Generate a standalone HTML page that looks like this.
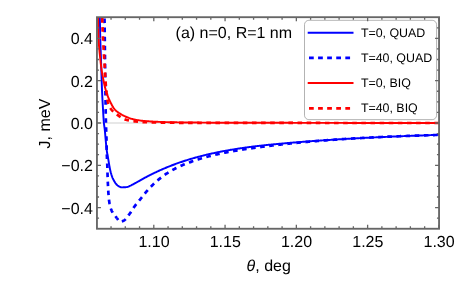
<!DOCTYPE html>
<html><head><meta charset="utf-8"><title>plot</title>
<style>html,body{margin:0;padding:0;background:#fff;overflow:hidden;}svg{display:block;will-change:transform;}text{font-family:"Liberation Sans",sans-serif;fill:#000;text-rendering:geometricPrecision;}</style></head><body>
<svg width="456" height="298" viewBox="0 0 456 298">
<rect width="456" height="298" fill="#fff"/>
<defs><clipPath id="c"><rect x="96.95" y="17.2" width="342.1" height="211.55"/></clipPath></defs>
<path d="M96.95,122.98 H439.05" stroke="#cfcfcf" stroke-width="1.1" fill="none"/>
<g clip-path="url(#c)" fill="none" stroke-linejoin="round">
<path d="M99.30,0.00 L99.32,0.75 L99.35,1.50 L99.37,2.25 L99.40,2.99 L99.42,3.74 L99.44,4.49 L99.47,5.24 L99.49,5.99 L99.51,6.74 L99.53,7.49 L99.56,8.23 L99.58,8.98 L99.60,9.73 L99.62,10.48 L99.64,11.23 L99.66,11.98 L99.69,12.73 L99.71,13.47 L99.73,14.22 L99.75,14.97 L99.77,15.72 L99.79,16.47 L99.81,17.22 L99.82,17.97 L99.84,18.72 L99.86,19.46 L99.88,20.21 L99.90,20.96 L99.91,21.71 L99.93,22.46 L99.95,23.21 L99.96,23.96 L99.98,24.70 L99.99,25.45 L100.01,26.20 L100.02,26.95 L100.04,27.70 L100.06,28.45 L100.07,29.20 L100.09,29.95 L100.10,30.70 L100.12,31.44 L100.14,32.19 L100.15,32.94 L100.17,33.69 L100.19,34.44 L100.20,35.19 L100.22,35.94 L100.24,36.68 L100.26,37.43 L100.28,38.18 L100.30,38.93 L100.32,39.68 L100.34,40.43 L100.36,41.18 L100.38,41.93 L100.41,42.67 L100.43,43.42 L100.45,44.17 L100.48,44.92 L100.50,45.67 L100.53,46.42 L100.55,47.16 L100.58,47.91 L100.61,48.66 L100.63,49.41 L100.66,50.16 L100.68,50.91 L100.71,51.66 L100.74,52.40 L100.76,53.15 L100.79,53.90 L100.82,54.65 L100.84,55.40 L100.87,56.15 L100.90,56.89 L100.92,57.64 L100.95,58.39 L100.97,59.14 L101.00,59.89 L101.02,60.64 L101.05,61.39 L101.07,62.13 L101.09,62.88 L101.12,63.63 L101.14,64.38 L101.17,65.13 L101.19,65.88 L101.21,66.63 L101.24,67.37 L101.26,68.12 L101.29,68.87 L101.31,69.62 L101.33,70.37 L101.36,71.12 L101.38,71.87 L101.41,72.61 L101.43,73.36 L101.46,74.11 L101.48,74.86 L101.50,75.61 L101.53,76.36 L101.55,77.10 L101.58,77.85 L101.60,78.60 L101.63,79.35 L101.65,80.10 L101.68,80.85 L101.70,81.60 L101.73,82.34 L101.75,83.09 L101.78,83.84 L101.80,84.59 L101.83,85.34 L101.85,86.09 L101.88,86.84 L101.91,87.58 L101.93,88.33 L101.96,89.08 L101.99,89.83 L102.02,90.58 L102.06,91.33 L102.09,92.07 L102.12,92.82 L102.16,93.57 L102.19,94.32 L102.23,95.07 L102.26,95.81 L102.30,96.56 L102.34,97.31 L102.38,98.06 L102.42,98.81 L102.46,99.55 L102.50,100.30 L102.54,101.05 L102.58,101.80 L102.62,102.54 L102.66,103.29 L102.70,104.04 L102.75,104.79 L102.79,105.54 L102.83,106.28 L102.88,107.03 L102.92,107.78 L102.96,108.53 L103.01,109.27 L103.05,110.02 L103.09,110.77 L103.14,111.52 L103.18,112.27 L103.22,113.01 L103.26,113.76 L103.31,114.51 L103.35,115.26 L103.39,116.01 L103.44,116.75 L103.49,117.50 L103.54,118.25 L103.59,119.00 L103.64,119.74 L103.69,120.49 L103.75,121.24 L103.81,121.98 L103.88,122.73 L103.95,123.47 L104.03,124.22 L104.12,124.96 L104.22,125.70 L104.33,126.44 L104.43,127.18 L104.54,127.93 L104.64,128.67 L104.73,129.41 L104.82,130.16 L104.89,130.90 L104.97,131.65 L105.04,132.39 L105.10,133.14 L105.17,133.88 L105.23,134.63 L105.30,135.38 L105.36,136.12 L105.42,136.87 L105.49,137.62 L105.55,138.36 L105.62,139.11 L105.69,139.85 L105.76,140.60 L105.83,141.35 L105.89,142.09 L105.96,142.84 L106.03,143.58 L106.10,144.33 L106.17,145.08 L106.24,145.82 L106.31,146.57 L106.39,147.31 L106.47,148.06 L106.56,148.80 L106.64,149.54 L106.74,150.29 L106.84,151.03 L106.95,151.77 L107.06,152.51 L107.18,153.24 L107.31,153.98 L107.44,154.72 L107.57,155.46 L107.71,156.20 L107.84,156.93 L107.98,157.67 L108.11,158.41 L108.25,159.14 L108.38,159.88 L108.51,160.62 L108.63,161.36 L108.76,162.10 L108.88,162.84 L109.00,163.58 L109.12,164.32 L109.25,165.06 L109.38,165.80 L109.51,166.53 L109.64,167.27 L109.78,168.01 L109.93,168.74 L110.08,169.47 L110.24,170.20 L110.41,170.93 L110.59,171.66 L110.77,172.39 L110.97,173.12 L111.17,173.84 L111.38,174.56 L111.61,175.27 L111.85,175.98 L112.09,176.68 L112.36,177.38 L112.65,178.07 L112.97,178.75 L113.30,179.43 L113.65,180.10 L114.02,180.75 L114.40,181.39 L114.79,182.04 L115.20,182.70 L115.63,183.35 L116.09,183.97 L116.57,184.53 L117.09,185.03 L117.64,185.45 L118.25,185.88 L118.92,186.30 L119.61,186.68 L120.33,187.00 L121.06,187.23 L121.79,187.34 L122.51,187.35 L123.25,187.33 L124.01,187.30 L124.77,187.26 L125.53,187.21 L126.28,187.14 L127.00,187.07 L127.72,186.89 L128.42,186.61 L129.11,186.28 L129.80,185.95 L130.48,185.65 L131.16,185.33 L131.83,184.99 L132.49,184.65 L133.15,184.30 L133.81,183.94 L134.47,183.58 L135.13,183.21 L135.79,182.86 L136.44,182.50 L137.10,182.14 L137.75,181.77 L138.41,181.40 L139.06,181.03 L139.71,180.66 L140.36,180.29 L141.01,179.92 L141.66,179.55 L142.31,179.18 L142.96,178.81 L143.62,178.45 L144.27,178.09 L144.93,177.73 L145.59,177.38 L146.25,177.02 L146.91,176.67 L147.58,176.32 L148.24,175.98 L148.91,175.63 L149.57,175.29 L150.24,174.96 L150.91,174.62 L151.58,174.29 L152.26,173.96 L152.93,173.63 L153.60,173.30 L154.28,172.98 L154.95,172.65 L155.63,172.33 L156.31,172.01 L156.99,171.69 L157.66,171.37 L158.34,171.06 L159.03,170.75 L159.71,170.44 L160.39,170.13 L161.07,169.83 L161.76,169.52 L162.45,169.23 L163.13,168.93 L163.82,168.63 L164.51,168.34 L165.20,168.05 L165.89,167.76 L166.58,167.48 L167.28,167.19 L167.97,166.91 L168.67,166.63 L169.36,166.35 L170.06,166.07 L170.76,165.80 L171.45,165.53 L172.15,165.26 L172.85,164.99 L173.55,164.73 L174.25,164.47 L174.96,164.21 L175.66,163.95 L176.36,163.69 L177.07,163.44 L177.77,163.19 L178.48,162.94 L179.19,162.69 L179.89,162.44 L180.60,162.20 L181.31,161.96 L182.02,161.72 L182.73,161.48 L183.44,161.25 L184.16,161.01 L184.87,160.78 L185.58,160.55 L186.29,160.33 L187.01,160.10 L187.72,159.88 L188.44,159.66 L189.15,159.44 L189.87,159.22 L190.59,159.01 L191.31,158.79 L192.03,158.58 L192.74,158.37 L193.46,158.17 L194.18,157.96 L194.91,157.76 L195.63,157.55 L196.35,157.35 L197.07,157.16 L197.79,156.96 L198.52,156.77 L199.24,156.57 L199.97,156.38 L200.69,156.20 L201.42,156.01 L202.14,155.82 L202.87,155.64 L203.59,155.46 L204.32,155.28 L205.05,155.10 L205.78,154.92 L206.50,154.75 L207.23,154.57 L207.96,154.40 L208.69,154.23 L209.42,154.06 L210.15,153.90 L210.88,153.73 L211.61,153.57 L212.34,153.41 L213.08,153.25 L213.81,153.09 L214.54,152.93 L215.27,152.78 L216.01,152.62 L216.74,152.47 L217.47,152.32 L218.21,152.17 L218.94,152.02 L219.67,151.87 L220.41,151.72 L221.14,151.58 L221.88,151.44 L222.62,151.30 L223.35,151.16 L224.09,151.02 L224.82,150.88 L225.56,150.75 L226.30,150.61 L227.03,150.48 L227.77,150.35 L228.51,150.22 L229.25,150.09 L229.98,149.96 L230.72,149.83 L231.46,149.71 L232.20,149.59 L232.94,149.46 L233.68,149.34 L234.42,149.22 L235.16,149.10 L235.90,148.98 L236.64,148.87 L237.38,148.75 L238.12,148.64 L238.86,148.53 L239.60,148.42 L240.34,148.30 L241.08,148.20 L241.82,148.09 L242.56,147.98 L243.30,147.87 L244.04,147.77 L244.79,147.66 L245.53,147.56 L246.27,147.46 L247.01,147.36 L247.75,147.26 L248.50,147.16 L249.24,147.06 L249.98,146.97 L250.72,146.87 L251.47,146.78 L252.21,146.68 L252.95,146.59 L253.70,146.50 L254.44,146.41 L255.18,146.31 L255.93,146.23 L256.67,146.14 L257.41,146.05 L258.16,145.96 L258.90,145.88 L259.65,145.79 L260.39,145.71 L261.13,145.62 L261.88,145.54 L262.62,145.46 L263.37,145.38 L264.11,145.30 L264.86,145.22 L265.60,145.14 L266.35,145.06 L267.09,144.98 L267.84,144.90 L268.58,144.83 L269.33,144.75 L270.07,144.68 L270.82,144.60 L271.56,144.53 L272.31,144.46 L273.05,144.38 L273.80,144.31 L274.54,144.24 L275.29,144.17 L276.03,144.10 L276.78,144.03 L277.53,143.96 L278.27,143.89 L279.02,143.82 L279.76,143.75 L280.51,143.68 L281.26,143.62 L282.00,143.55 L282.75,143.48 L283.49,143.42 L284.24,143.35 L284.99,143.29 L285.73,143.22 L286.48,143.16 L287.22,143.09 L287.97,143.03 L288.72,142.97 L289.46,142.90 L290.21,142.84 L290.95,142.78 L291.70,142.71 L292.45,142.65 L293.19,142.59 L293.94,142.53 L294.69,142.47 L295.43,142.41 L296.18,142.35 L296.93,142.29 L297.67,142.23 L298.42,142.17 L299.17,142.11 L299.91,142.05 L300.66,141.99 L301.41,141.93 L302.15,141.87 L302.90,141.81 L303.65,141.76 L304.39,141.70 L305.14,141.64 L305.89,141.59 L306.63,141.53 L307.38,141.47 L308.13,141.42 L308.87,141.36 L309.62,141.31 L310.37,141.25 L311.11,141.20 L311.86,141.14 L312.61,141.09 L313.35,141.03 L314.10,140.98 L314.85,140.92 L315.60,140.87 L316.34,140.82 L317.09,140.77 L317.84,140.71 L318.58,140.66 L319.33,140.61 L320.08,140.56 L320.82,140.50 L321.57,140.45 L322.32,140.40 L323.07,140.35 L323.81,140.30 L324.56,140.25 L325.31,140.20 L326.06,140.15 L326.80,140.10 L327.55,140.05 L328.30,140.00 L329.04,139.95 L329.79,139.91 L330.54,139.86 L331.29,139.81 L332.03,139.76 L332.78,139.71 L333.53,139.67 L334.28,139.62 L335.02,139.57 L335.77,139.53 L336.52,139.48 L337.27,139.43 L338.01,139.39 L338.76,139.34 L339.51,139.30 L340.26,139.25 L341.00,139.21 L341.75,139.16 L342.50,139.12 L343.25,139.07 L343.99,139.03 L344.74,138.99 L345.49,138.94 L346.24,138.90 L346.98,138.85 L347.73,138.81 L348.48,138.77 L349.23,138.73 L349.98,138.68 L350.72,138.64 L351.47,138.60 L352.22,138.56 L352.97,138.52 L353.71,138.48 L354.46,138.43 L355.21,138.39 L355.96,138.35 L356.71,138.31 L357.45,138.27 L358.20,138.23 L358.95,138.19 L359.70,138.15 L360.45,138.11 L361.19,138.07 L361.94,138.03 L362.69,138.00 L363.44,137.96 L364.18,137.92 L364.93,137.88 L365.68,137.84 L366.43,137.80 L367.18,137.77 L367.92,137.73 L368.67,137.69 L369.42,137.65 L370.17,137.62 L370.92,137.58 L371.66,137.54 L372.41,137.51 L373.16,137.47 L373.91,137.44 L374.66,137.40 L375.40,137.36 L376.15,137.33 L376.90,137.29 L377.65,137.26 L378.40,137.22 L379.15,137.19 L379.89,137.15 L380.64,137.12 L381.39,137.08 L382.14,137.05 L382.89,137.01 L383.63,136.98 L384.38,136.95 L385.13,136.91 L385.88,136.88 L386.63,136.85 L387.37,136.81 L388.12,136.78 L388.87,136.75 L389.62,136.71 L390.37,136.68 L391.12,136.65 L391.86,136.62 L392.61,136.59 L393.36,136.55 L394.11,136.52 L394.86,136.49 L395.61,136.46 L396.35,136.43 L397.10,136.40 L397.85,136.37 L398.60,136.33 L399.35,136.30 L400.09,136.27 L400.84,136.24 L401.59,136.21 L402.34,136.18 L403.09,136.15 L403.84,136.12 L404.58,136.09 L405.33,136.06 L406.08,136.03 L406.83,136.00 L407.58,135.97 L408.33,135.94 L409.07,135.91 L409.82,135.88 L410.57,135.86 L411.32,135.83 L412.07,135.80 L412.82,135.77 L413.56,135.74 L414.31,135.71 L415.06,135.69 L415.81,135.66 L416.56,135.63 L417.31,135.60 L418.06,135.57 L418.80,135.55 L419.55,135.52 L420.30,135.49 L421.05,135.46 L421.80,135.44 L422.55,135.41 L423.29,135.38 L424.04,135.36 L424.79,135.33 L425.54,135.30 L426.29,135.28 L427.04,135.25 L427.78,135.22 L428.53,135.20 L429.28,135.17 L430.03,135.15 L430.78,135.12 L431.53,135.09 L432.28,135.07 L433.02,135.04 L433.77,135.02 L434.52,134.99 L435.27,134.96 L436.02,134.94 L436.77,134.91 L437.51,134.89 L438.26,134.86 L439.01,134.84 L439.76,134.81 L440.51,134.79 L441.26,134.76 L442.01,134.74 L442.75,134.71 L443.50,134.69 L444.25,134.66 L445.00,134.64" stroke="#0000ff" stroke-width="1.95"/>
<path d="M116.84,218.03 L116.32,217.39 L115.79,216.74 L115.25,216.09 L114.72,215.43 L114.20,214.77 L113.70,214.09 L113.22,213.41 L112.76,212.72 L112.34,212.02 L111.96,211.31 L111.62,210.59 L111.33,209.85 L111.05,209.10 L110.78,208.32 L110.53,207.53 L110.30,206.73 L110.08,205.93 L109.88,205.11 L109.69,204.29 L109.53,203.48 L109.39,202.66 L109.26,201.85 L109.15,201.04 L109.05,200.23 L108.96,199.41 L108.87,198.59 L108.78,197.77 L108.71,196.94 L108.64,196.12 L108.57,195.29 L108.51,194.47 L108.45,193.65 L108.39,192.82 L108.33,192.00 L108.28,191.18 L108.23,190.36 L108.18,189.53 L108.14,188.71 L108.09,187.89 L108.05,187.06 L108.01,186.24 L107.97,185.42 L107.94,184.59 L107.90,183.77 L107.86,182.95 L107.83,182.12 L107.79,181.30 L107.76,180.48 L107.73,179.65 L107.70,178.83 L107.67,178.01 L107.64,177.18 L107.61,176.36 L107.58,175.53 L107.56,174.71 L107.53,173.89 L107.51,173.06 L107.49,172.24 L107.46,171.41 L107.44,170.59 L107.42,169.77 L107.40,168.94 L107.38,168.12 L107.36,167.29 L107.33,166.47 L107.31,165.65 L107.28,164.82 L107.25,164.00 L107.21,163.18 L107.17,162.35 L107.13,161.53 L107.09,160.71 L107.05,159.88 L107.01,159.06 L106.98,158.23 L106.94,157.41 L106.91,156.59 L106.88,155.76 L106.85,154.94 L106.82,154.12 L106.79,153.29 L106.77,152.47 L106.74,151.64 L106.72,150.82 L106.70,150.00 L106.68,149.17 L106.66,148.35 L106.65,147.52 L106.63,146.70 L106.62,145.88 L106.60,145.05 L106.59,144.23 L106.57,143.40 L106.56,142.58 L106.54,141.76 L106.52,140.93 L106.50,140.11 L106.48,139.28 L106.46,138.46 L106.43,137.64 L106.41,136.81 L106.38,135.99 L106.35,135.16 L106.32,134.34 L106.29,133.52 L106.26,132.69 L106.23,131.87 L106.20,131.05 L106.17,130.22 L106.14,129.40 L106.11,128.57 L106.09,127.75 L106.06,126.93 L106.03,126.10 L106.01,125.28 L105.98,124.45 L105.96,123.63 L105.94,122.81 L105.92,121.98 L105.89,121.16 L105.87,120.33 L105.85,119.51 L105.83,118.69 L105.81,117.86 L105.79,117.04 L105.77,116.21 L105.76,115.39 L105.74,114.57 L105.73,113.74 L105.72,112.92 L105.70,112.09 L105.69,111.27 L105.68,110.44 L105.67,109.62 L105.66,108.80 L105.65,107.97 L105.64,107.15 L105.63,106.32 L105.62,105.50 L105.61,104.68 L105.60,103.85 L105.59,103.03 L105.58,102.20 L105.57,101.38 L105.56,100.55 L105.55,99.73 L105.53,98.91 L105.52,98.08 L105.51,97.26 L105.50,96.43 L105.49,95.61 L105.48,94.78 L105.47,93.96 L105.45,93.14 L105.44,92.31 L105.43,91.49 L105.42,90.66 L105.41,89.84 L105.39,89.02 L105.38,88.19 L105.37,87.37 L105.36,86.54 L105.35,85.72 L105.34,84.89 L105.32,84.07 L105.31,83.25 L105.30,82.42 L105.29,81.60 L105.28,80.77 L105.27,79.95 L105.25,79.12 L105.24,78.30 L105.23,77.48 L105.22,76.65 L105.21,75.83 L105.20,75.00 L105.19,74.18 L105.18,73.36 L105.17,72.53 L105.16,71.71 L105.15,70.88 L105.14,70.06 L105.13,69.23 L105.12,68.41 L105.11,67.59 L105.10,66.76 L105.09,65.94 L105.08,65.11 L105.07,64.29 L105.06,63.46 L105.05,62.64 L105.04,61.82 L105.03,60.99 L105.02,60.17 L105.01,59.34 L105.00,58.52 L104.99,57.69 L104.98,56.87 L104.97,56.05 L104.96,55.22 L104.95,54.40 L104.94,53.57 L104.93,52.75 L104.92,51.93 L104.91,51.10 L104.90,50.28 L104.89,49.45 L104.88,48.63 L104.87,47.80 L104.86,46.98 L104.85,46.16 L104.85,45.33 L104.84,44.51 L104.83,43.68 L104.82,42.86 L104.81,42.03 L104.80,41.21 L104.79,40.39 L104.78,39.56 L104.77,38.74 L104.76,37.91 L104.75,37.09 L104.74,36.26 L104.73,35.44 L104.72,34.62 L104.71,33.79 L104.70,32.97 L104.70,32.14 L104.69,31.32 L104.68,30.49 L104.67,29.67 L104.66,28.85 L104.65,28.02 L104.64,27.20 L104.63,26.37 L104.62,25.55 L104.61,24.73 L104.59,23.90 L104.58,23.08 L104.57,22.25 L104.56,21.43 L104.55,20.60 L104.54,19.78 L104.53,18.96 L104.52,18.13 L104.50,17.31 L104.49,16.48 L104.48,15.66 L104.47,14.83 L104.45,14.01 L104.44,13.19 L104.43,12.36 L104.41,11.54 L104.40,10.71 L104.38,9.89 L104.37,9.07 L104.36,8.24 L104.34,7.42 L104.33,6.59 L104.31,5.77 L104.29,4.94 L104.28,4.12 L104.26,3.30 L104.25,2.47 L104.23,1.65 L104.22,0.82 L104.20,0.00" stroke="#0000ff" stroke-width="2.7" stroke-dasharray="4.6 4.46" stroke-dashoffset="2.30"/><path d="M116.84,218.03 L117.35,218.72 L117.87,219.51 L118.40,220.31 L118.96,221.02 L119.54,221.54 L120.16,221.79 L120.86,221.74 L121.66,221.53 L122.50,221.22 L123.30,220.85 L124.00,220.47 L124.63,220.05 L125.23,219.56 L125.80,218.99 L126.34,218.37 L126.87,217.71 L127.38,217.02 L127.88,216.31 L128.38,215.59 L128.86,214.88 L129.35,214.18 L129.84,213.51 L130.32,212.84 L130.79,212.16 L131.24,211.48 L131.69,210.78 L132.13,210.08 L132.57,209.39 L133.01,208.69 L133.46,208.00 L133.92,207.31 L134.39,206.64 L134.88,205.97 L135.37,205.32 L135.88,204.66 L136.39,204.02 L136.90,203.37 L137.42,202.73 L137.95,202.10 L138.47,201.46 L139.00,200.82 L139.52,200.19 L140.05,199.55 L140.57,198.91 L141.09,198.27 L141.60,197.63 L142.12,196.98 L142.63,196.33 L143.14,195.68 L143.65,195.04 L144.16,194.39 L144.67,193.74 L145.19,193.10 L145.71,192.47 L146.24,191.84 L146.78,191.21 L147.32,190.59 L147.87,189.97 L148.42,189.36 L148.97,188.75 L149.54,188.15 L150.10,187.55 L150.67,186.95 L151.25,186.36 L151.83,185.77 L152.41,185.19 L152.99,184.61 L153.59,184.04 L154.18,183.47 L154.78,182.90 L155.39,182.34 L156.00,181.79 L156.62,181.24 L157.24,180.70 L157.87,180.17 L158.50,179.64 L159.14,179.12 L159.78,178.60 L160.42,178.09 L161.07,177.58 L161.73,177.07 L162.39,176.57 L163.05,176.08 L163.72,175.59 L164.39,175.11 L165.06,174.64 L165.74,174.17 L166.42,173.72 L167.11,173.26 L167.80,172.82 L168.50,172.37 L169.20,171.94 L169.90,171.51 L170.61,171.09 L171.33,170.67 L172.04,170.26 L172.76,169.86 L173.49,169.46 L174.21,169.08 L174.94,168.69 L175.67,168.32 L176.41,167.95 L177.15,167.58 L177.89,167.22 L178.64,166.87 L179.39,166.52 L180.14,166.17 L180.89,165.84 L181.64,165.50 L182.40,165.18 L183.16,164.86 L183.92,164.54 L184.68,164.23 L185.45,163.92 L186.21,163.62 L186.98,163.32 L187.75,163.03 L188.53,162.74 L189.30,162.45 L190.07,162.17 L190.85,161.89 L191.62,161.61 L192.40,161.34 L193.18,161.07 L193.96,160.80 L194.74,160.54 L195.52,160.28 L196.31,160.02 L197.09,159.77 L197.88,159.52 L198.66,159.27 L199.45,159.03 L200.24,158.78 L201.03,158.55 L201.82,158.31 L202.61,158.08 L203.40,157.85 L204.19,157.62 L204.99,157.40 L205.78,157.17 L206.58,156.95 L207.37,156.74 L208.17,156.52 L208.96,156.31 L209.76,156.11 L210.56,155.90 L211.36,155.70 L212.16,155.50 L212.96,155.30 L213.76,155.11 L214.56,154.91 L215.36,154.72 L216.17,154.54 L216.97,154.35 L217.77,154.17 L218.58,153.99 L219.38,153.81 L220.19,153.64 L220.99,153.46 L221.80,153.29 L222.61,153.12 L223.42,152.96 L224.22,152.79 L225.03,152.63 L225.84,152.47 L226.65,152.31 L227.46,152.15 L228.27,152.00 L229.08,151.85 L229.89,151.70 L230.70,151.55 L231.51,151.40 L232.32,151.25 L233.13,151.11 L233.95,150.97 L234.76,150.83 L235.57,150.69 L236.38,150.55 L237.20,150.42 L238.01,150.28 L238.82,150.15 L239.64,150.02 L240.45,149.89 L241.26,149.76 L242.08,149.63 L242.89,149.51 L243.71,149.38 L244.52,149.26 L245.34,149.13 L246.15,149.01 L246.97,148.89 L247.78,148.77 L248.60,148.65 L249.42,148.53 L250.23,148.42 L251.05,148.30 L251.86,148.19 L252.68,148.07 L253.50,147.96 L254.31,147.84 L255.13,147.73 L255.95,147.62 L256.76,147.51 L257.58,147.40 L258.40,147.29 L259.21,147.18 L260.03,147.07 L260.85,146.96 L261.67,146.85 L262.48,146.75 L263.30,146.64 L264.12,146.54 L264.94,146.43 L265.75,146.33 L266.57,146.22 L267.39,146.12 L268.21,146.02 L269.02,145.92 L269.84,145.82 L270.66,145.72 L271.48,145.62 L272.30,145.52 L273.12,145.42 L273.93,145.32 L274.75,145.23 L275.57,145.13 L276.39,145.03 L277.21,144.94 L278.03,144.84 L278.85,144.75 L279.67,144.66 L280.49,144.57 L281.30,144.47 L282.12,144.38 L282.94,144.29 L283.76,144.20 L284.58,144.11 L285.40,144.02 L286.22,143.93 L287.04,143.85 L287.86,143.76 L288.68,143.67 L289.50,143.59 L290.32,143.50 L291.14,143.42 L291.96,143.33 L292.78,143.25 L293.60,143.17 L294.42,143.08 L295.24,143.00 L296.06,142.92 L296.88,142.84 L297.70,142.76 L298.52,142.68 L299.34,142.60 L300.16,142.52 L300.98,142.44 L301.80,142.37 L302.62,142.29 L303.44,142.21 L304.27,142.14 L305.09,142.06 L305.91,141.99 L306.73,141.91 L307.55,141.84 L308.37,141.76 L309.19,141.69 L310.01,141.62 L310.83,141.55 L311.65,141.48 L312.48,141.41 L313.30,141.34 L314.12,141.27 L314.94,141.20 L315.76,141.13 L316.58,141.06 L317.40,140.99 L318.23,140.92 L319.05,140.86 L319.87,140.79 L320.69,140.73 L321.51,140.66 L322.33,140.60 L323.16,140.53 L323.98,140.47 L324.80,140.40 L325.62,140.34 L326.44,140.28 L327.27,140.22 L328.09,140.16 L328.91,140.09 L329.73,140.03 L330.55,139.97 L331.38,139.91 L332.20,139.85 L333.02,139.80 L333.84,139.74 L334.66,139.68 L335.49,139.62 L336.31,139.56 L337.13,139.51 L337.95,139.45 L338.78,139.40 L339.60,139.34 L340.42,139.29 L341.24,139.23 L342.07,139.18 L342.89,139.12 L343.71,139.07 L344.53,139.02 L345.36,138.96 L346.18,138.91 L347.00,138.86 L347.82,138.81 L348.65,138.76 L349.47,138.71 L350.29,138.66 L351.12,138.61 L351.94,138.56 L352.76,138.51 L353.58,138.46 L354.41,138.41 L355.23,138.36 L356.05,138.31 L356.88,138.27 L357.70,138.22 L358.52,138.17 L359.34,138.13 L360.17,138.08 L360.99,138.04 L361.81,137.99 L362.64,137.95 L363.46,137.90 L364.28,137.86 L365.11,137.82 L365.93,137.77 L366.75,137.73 L367.58,137.69 L368.40,137.64 L369.22,137.60 L370.05,137.56 L370.87,137.52 L371.69,137.48 L372.52,137.44 L373.34,137.40 L374.16,137.35 L374.98,137.31 L375.81,137.27 L376.63,137.24 L377.45,137.20 L378.28,137.16 L379.10,137.12 L379.93,137.08 L380.75,137.04 L381.57,137.00 L382.40,136.97 L383.22,136.93 L384.04,136.89 L384.87,136.86 L385.69,136.82 L386.51,136.78 L387.34,136.75 L388.16,136.71 L388.98,136.68 L389.81,136.64 L390.63,136.61 L391.45,136.57 L392.28,136.54 L393.10,136.50 L393.92,136.47 L394.75,136.44 L395.57,136.40 L396.40,136.37 L397.22,136.34 L398.04,136.30 L398.87,136.27 L399.69,136.24 L400.51,136.21 L401.34,136.17 L402.16,136.14 L402.98,136.11 L403.81,136.08 L404.63,136.05 L405.46,136.02 L406.28,135.99 L407.10,135.95 L407.93,135.92 L408.75,135.89 L409.57,135.86 L410.40,135.83 L411.22,135.81 L412.05,135.78 L412.87,135.75 L413.69,135.72 L414.52,135.69 L415.34,135.66 L416.16,135.63 L416.99,135.60 L417.81,135.57 L418.64,135.55 L419.46,135.52 L420.28,135.49 L421.11,135.46 L421.93,135.44 L422.76,135.41 L423.58,135.38 L424.40,135.35 L425.23,135.33 L426.05,135.30 L426.87,135.27 L427.70,135.25 L428.52,135.22 L429.35,135.19 L430.17,135.17 L430.99,135.14 L431.82,135.11 L432.64,135.09 L433.47,135.06 L434.29,135.04 L435.11,135.01 L435.94,134.98 L436.76,134.96 L437.58,134.93 L438.41,134.91 L439.23,134.88 L440.06,134.85 L440.88,134.83 L441.70,134.80 L442.53,134.78 L443.35,134.75 L444.18,134.73 L445.00,134.70" stroke="#0000ff" stroke-width="2.7" stroke-dasharray="4.6 4.52" stroke-dashoffset="2.30"/>
<path d="M97.60,0.00 L97.61,0.64 L97.63,1.27 L97.64,1.91 L97.66,2.55 L97.67,3.18 L97.69,3.82 L97.70,4.46 L97.71,5.09 L97.73,5.73 L97.74,6.37 L97.76,7.00 L97.77,7.64 L97.79,8.28 L97.80,8.91 L97.82,9.55 L97.83,10.19 L97.85,10.82 L97.86,11.46 L97.88,12.10 L97.89,12.73 L97.91,13.37 L97.93,14.01 L97.94,14.64 L97.96,15.28 L97.97,15.92 L97.99,16.55 L98.00,17.19 L98.02,17.83 L98.04,18.46 L98.05,19.10 L98.07,19.74 L98.08,20.38 L98.10,21.01 L98.11,21.65 L98.12,22.29 L98.14,22.92 L98.15,23.56 L98.17,24.20 L98.18,24.83 L98.20,25.47 L98.21,26.11 L98.23,26.75 L98.24,27.38 L98.26,28.02 L98.27,28.66 L98.29,29.29 L98.30,29.93 L98.32,30.57 L98.34,31.20 L98.35,31.84 L98.37,32.48 L98.39,33.11 L98.41,33.75 L98.43,34.39 L98.45,35.02 L98.47,35.66 L98.50,36.29 L98.52,36.93 L98.54,37.57 L98.57,38.20 L98.59,38.84 L98.62,39.47 L98.65,40.11 L98.68,40.74 L98.72,41.38 L98.75,42.02 L98.79,42.65 L98.84,43.29 L98.88,43.92 L98.93,44.56 L98.97,45.19 L99.02,45.83 L99.07,46.46 L99.13,47.10 L99.18,47.73 L99.24,48.37 L99.30,49.00 L99.35,49.63 L99.41,50.27 L99.47,50.90 L99.54,51.54 L99.60,52.17 L99.66,52.81 L99.72,53.44 L99.79,54.08 L99.85,54.71 L99.92,55.34 L99.98,55.98 L100.05,56.61 L100.12,57.24 L100.18,57.88 L100.25,58.51 L100.31,59.15 L100.38,59.78 L100.44,60.41 L100.51,61.05 L100.57,61.68 L100.64,62.31 L100.71,62.95 L100.78,63.58 L100.86,64.21 L100.93,64.85 L101.00,65.48 L101.08,66.11 L101.16,66.74 L101.24,67.37 L101.32,68.01 L101.41,68.64 L101.50,69.27 L101.59,69.90 L101.68,70.53 L101.77,71.16 L101.87,71.78 L101.97,72.41 L102.08,73.04 L102.19,73.67 L102.30,74.30 L102.41,74.92 L102.53,75.55 L102.65,76.18 L102.77,76.80 L102.89,77.43 L103.01,78.05 L103.13,78.68 L103.26,79.30 L103.39,79.93 L103.51,80.55 L103.64,81.18 L103.77,81.80 L103.90,82.42 L104.03,83.05 L104.16,83.67 L104.30,84.29 L104.44,84.92 L104.58,85.54 L104.72,86.16 L104.87,86.78 L105.02,87.40 L105.18,88.02 L105.33,88.63 L105.50,89.25 L105.66,89.86 L105.83,90.47 L106.01,91.08 L106.20,91.69 L106.39,92.30 L106.59,92.91 L106.80,93.51 L107.01,94.11 L107.22,94.71 L107.44,95.31 L107.66,95.91 L107.89,96.50 L108.13,97.09 L108.37,97.68 L108.62,98.27 L108.87,98.85 L109.13,99.44 L109.39,100.02 L109.66,100.60 L109.94,101.17 L110.22,101.74 L110.50,102.31 L110.79,102.88 L111.08,103.45 L111.37,104.02 L111.67,104.60 L111.97,105.18 L112.28,105.76 L112.60,106.32 L112.92,106.88 L113.26,107.43 L113.60,107.96 L113.96,108.47 L114.34,108.96 L114.73,109.43 L115.14,109.88 L115.58,110.31 L116.04,110.74 L116.53,111.15 L117.03,111.55 L117.55,111.94 L118.08,112.32 L118.62,112.69 L119.16,113.06 L119.70,113.41 L120.25,113.75 L120.79,114.09 L121.32,114.42 L121.87,114.74 L122.43,115.06 L122.99,115.36 L123.56,115.66 L124.13,115.95 L124.71,116.22 L125.29,116.49 L125.87,116.74 L126.45,116.99 L127.04,117.23 L127.63,117.47 L128.23,117.71 L128.83,117.94 L129.43,118.15 L130.03,118.36 L130.64,118.56 L131.25,118.75 L131.86,118.92 L132.48,119.07 L133.09,119.21 L133.71,119.35 L134.33,119.48 L134.95,119.61 L135.57,119.74 L136.20,119.87 L136.83,119.98 L137.46,120.10 L138.09,120.21 L138.72,120.31 L139.35,120.41 L139.98,120.51 L140.62,120.60 L141.25,120.68 L141.89,120.76 L142.52,120.83 L143.15,120.90 L143.79,120.96 L144.42,121.01 L145.05,121.06 L145.68,121.11 L146.32,121.15 L146.95,121.20 L147.58,121.24 L148.22,121.29 L148.85,121.33 L149.49,121.37 L150.12,121.41 L150.76,121.45 L151.39,121.49 L152.03,121.53 L152.66,121.56 L153.30,121.60 L153.94,121.63 L154.57,121.67 L155.21,121.70 L155.85,121.73 L156.48,121.76 L157.12,121.79 L157.76,121.82 L158.40,121.85 L159.03,121.88 L159.67,121.90 L160.31,121.93 L160.95,121.95 L161.58,121.98 L162.22,122.00 L162.86,122.02 L163.50,122.04 L164.13,122.06 L164.77,122.08 L165.41,122.10 L166.05,122.12 L166.68,122.13 L167.32,122.15 L167.96,122.17 L168.59,122.18 L169.23,122.19 L169.87,122.21 L170.50,122.22 L171.14,122.23 L171.78,122.25 L172.41,122.26 L173.05,122.27 L173.69,122.28 L174.32,122.29 L174.96,122.31 L175.60,122.32 L176.23,122.33 L176.87,122.34 L177.51,122.35 L178.14,122.36 L178.78,122.37 L179.42,122.38 L180.05,122.39 L180.69,122.40 L181.33,122.41 L181.96,122.42 L182.60,122.43 L183.24,122.44 L183.87,122.45 L184.51,122.46 L185.15,122.46 L185.79,122.47 L186.42,122.48 L187.06,122.49 L187.70,122.49 L188.33,122.50 L188.97,122.51 L189.61,122.52 L190.24,122.52 L190.88,122.53 L191.52,122.53 L192.15,122.54 L192.79,122.55 L193.43,122.55 L194.07,122.56 L194.70,122.56 L195.34,122.57 L195.98,122.57 L196.61,122.58 L197.25,122.58 L197.89,122.59 L198.52,122.59 L199.16,122.60 L199.80,122.60 L200.43,122.60 L201.07,122.61 L201.71,122.61 L202.35,122.61 L202.98,122.62 L203.62,122.62 L204.26,122.62 L204.89,122.63 L205.53,122.63 L206.17,122.63 L206.80,122.64 L207.44,122.64 L208.08,122.64 L208.71,122.65 L209.35,122.65 L209.99,122.65 L210.62,122.65 L211.26,122.66 L211.90,122.66 L212.54,122.66 L213.17,122.67 L213.81,122.67 L214.45,122.67 L215.08,122.67 L215.72,122.68 L216.36,122.68 L216.99,122.68 L217.63,122.69 L218.27,122.69 L218.90,122.69 L219.54,122.69 L220.18,122.70 L220.81,122.70 L221.45,122.70 L222.09,122.70 L222.73,122.70 L223.36,122.71 L224.00,122.71 L224.64,122.71 L225.27,122.71 L225.91,122.72 L226.55,122.72 L227.18,122.72 L227.82,122.72 L228.46,122.72 L229.09,122.73 L229.73,122.73 L230.37,122.73 L231.00,122.73 L231.64,122.73 L232.28,122.74 L232.92,122.74 L233.55,122.74 L234.19,122.74 L234.83,122.74 L235.46,122.75 L236.10,122.75 L236.74,122.75 L237.37,122.75 L238.01,122.75 L238.65,122.75 L239.28,122.76 L239.92,122.76 L240.56,122.76 L241.20,122.76 L241.83,122.76 L242.47,122.76 L243.11,122.77 L243.74,122.77 L244.38,122.77 L245.02,122.77 L245.65,122.77 L246.29,122.77 L246.93,122.77 L247.56,122.78 L248.20,122.78 L248.84,122.78 L249.47,122.78 L250.11,122.78 L250.75,122.78 L251.39,122.78 L252.02,122.79 L252.66,122.79 L253.30,122.79 L253.93,122.79 L254.57,122.79 L255.21,122.79 L255.84,122.79 L256.48,122.79 L257.12,122.79 L257.75,122.80 L258.39,122.80 L259.03,122.80 L259.67,122.80 L260.30,122.80 L260.94,122.80 L261.58,122.80 L262.21,122.80 L262.85,122.80 L263.49,122.81 L264.12,122.81 L264.76,122.81 L265.40,122.81 L266.03,122.81 L266.67,122.81 L267.31,122.81 L267.94,122.81 L268.58,122.81 L269.22,122.81 L269.86,122.82 L270.49,122.82 L271.13,122.82 L271.77,122.82 L272.40,122.82 L273.04,122.82 L273.68,122.82 L274.31,122.82 L274.95,122.82 L275.59,122.82 L276.22,122.82 L276.86,122.83 L277.50,122.83 L278.13,122.83 L278.77,122.83 L279.41,122.83 L280.05,122.83 L280.68,122.83 L281.32,122.83 L281.96,122.83 L282.59,122.83 L283.23,122.83 L283.87,122.83 L284.50,122.84 L285.14,122.84 L285.78,122.84 L286.41,122.84 L287.05,122.84 L287.69,122.84 L288.33,122.84 L288.96,122.84 L289.60,122.84 L290.24,122.84 L290.87,122.84 L291.51,122.84 L292.15,122.84 L292.78,122.84 L293.42,122.85 L294.06,122.85 L294.69,122.85 L295.33,122.85 L295.97,122.85 L296.60,122.85 L297.24,122.85 L297.88,122.85 L298.52,122.85 L299.15,122.85 L299.79,122.85 L300.43,122.85 L301.06,122.85 L301.70,122.85 L302.34,122.85 L302.97,122.86 L303.61,122.86 L304.25,122.86 L304.88,122.86 L305.52,122.86 L306.16,122.86 L306.79,122.86 L307.43,122.86 L308.07,122.86 L308.71,122.86 L309.34,122.86 L309.98,122.86 L310.62,122.86 L311.25,122.86 L311.89,122.86 L312.53,122.86 L313.16,122.86 L313.80,122.87 L314.44,122.87 L315.07,122.87 L315.71,122.87 L316.35,122.87 L316.99,122.87 L317.62,122.87 L318.26,122.87 L318.90,122.87 L319.53,122.87 L320.17,122.87 L320.81,122.87 L321.44,122.87 L322.08,122.87 L322.72,122.87 L323.35,122.87 L323.99,122.87 L324.63,122.88 L325.26,122.88 L325.90,122.88 L326.54,122.88 L327.18,122.88 L327.81,122.88 L328.45,122.88 L329.09,122.88 L329.72,122.88 L330.36,122.88 L331.00,122.88 L331.63,122.88 L332.27,122.88 L332.91,122.88 L333.54,122.88 L334.18,122.88 L334.82,122.88 L335.45,122.89 L336.09,122.89 L336.73,122.89 L337.37,122.89 L338.00,122.89 L338.64,122.89 L339.28,122.89 L339.91,122.89 L340.55,122.89 L341.19,122.89 L341.82,122.89 L342.46,122.89 L343.10,122.89 L343.73,122.89 L344.37,122.89 L345.01,122.89 L345.65,122.90 L346.28,122.90 L346.92,122.90 L347.56,122.90 L348.19,122.90 L348.83,122.90 L349.47,122.90 L350.10,122.90 L350.74,122.90 L351.38,122.90 L352.01,122.90 L352.65,122.90 L353.29,122.90 L353.92,122.90 L354.56,122.90 L355.20,122.91 L355.84,122.91 L356.47,122.91 L357.11,122.91 L357.75,122.91 L358.38,122.91 L359.02,122.91 L359.66,122.91 L360.29,122.91 L360.93,122.91 L361.57,122.91 L362.20,122.91 L362.84,122.91 L363.48,122.91 L364.12,122.92 L364.75,122.92 L365.39,122.92 L366.03,122.92 L366.66,122.92 L367.30,122.92 L367.94,122.92 L368.57,122.92 L369.21,122.92 L369.85,122.92 L370.48,122.92 L371.12,122.92 L371.76,122.92 L372.39,122.92 L373.03,122.92 L373.67,122.93 L374.31,122.93 L374.94,122.93 L375.58,122.93 L376.22,122.93 L376.85,122.93 L377.49,122.93 L378.13,122.93 L378.76,122.93 L379.40,122.93 L380.04,122.93 L380.67,122.93 L381.31,122.93 L381.95,122.93 L382.58,122.93 L383.22,122.94 L383.86,122.94 L384.50,122.94 L385.13,122.94 L385.77,122.94 L386.41,122.94 L387.04,122.94 L387.68,122.94 L388.32,122.94 L388.95,122.94 L389.59,122.94 L390.23,122.94 L390.86,122.94 L391.50,122.94 L392.14,122.95 L392.78,122.95 L393.41,122.95 L394.05,122.95 L394.69,122.95 L395.32,122.95 L395.96,122.95 L396.60,122.95 L397.23,122.95 L397.87,122.95 L398.51,122.95 L399.14,122.95 L399.78,122.95 L400.42,122.95 L401.05,122.95 L401.69,122.96 L402.33,122.96 L402.97,122.96 L403.60,122.96 L404.24,122.96 L404.88,122.96 L405.51,122.96 L406.15,122.96 L406.79,122.96 L407.42,122.96 L408.06,122.96 L408.70,122.96 L409.33,122.96 L409.97,122.96 L410.61,122.96 L411.24,122.97 L411.88,122.97 L412.52,122.97 L413.16,122.97 L413.79,122.97 L414.43,122.97 L415.07,122.97 L415.70,122.97 L416.34,122.97 L416.98,122.97 L417.61,122.97 L418.25,122.97 L418.89,122.97 L419.52,122.97 L420.16,122.97 L420.80,122.98 L421.44,122.98 L422.07,122.98 L422.71,122.98 L423.35,122.98 L423.98,122.98 L424.62,122.98 L425.26,122.98 L425.89,122.98 L426.53,122.98 L427.17,122.98 L427.80,122.98 L428.44,122.98 L429.08,122.98 L429.71,122.98 L430.35,122.98 L430.99,122.99 L431.63,122.99 L432.26,122.99 L432.90,122.99 L433.54,122.99 L434.17,122.99 L434.81,122.99 L435.45,122.99 L436.08,122.99 L436.72,122.99 L437.36,122.99 L437.99,122.99 L438.63,122.99 L439.27,122.99 L439.90,122.99 L440.54,123.00 L441.18,123.00 L441.82,123.00 L442.45,123.00 L443.09,123.00 L443.73,123.00 L444.36,123.00 L445.00,123.00" stroke="#ff0000" stroke-width="1.95"/>
<path d="M106.65,92.72 L106.57,92.08 L106.50,91.44 L106.43,90.81 L106.35,90.17 L106.28,89.54 L106.21,88.90 L106.14,88.26 L106.08,87.62 L106.01,86.99 L105.95,86.35 L105.88,85.71 L105.82,85.07 L105.77,84.44 L105.71,83.80 L105.66,83.16 L105.61,82.52 L105.57,81.88 L105.52,81.25 L105.48,80.61 L105.44,79.97 L105.40,79.33 L105.37,78.69 L105.33,78.05 L105.29,77.41 L105.26,76.77 L105.22,76.13 L105.18,75.49 L105.15,74.85 L105.11,74.21 L105.08,73.57 L105.04,72.93 L105.00,72.29 L104.97,71.65 L104.93,71.02 L104.90,70.38 L104.86,69.74 L104.83,69.10 L104.79,68.46 L104.76,67.82 L104.72,67.18 L104.69,66.54 L104.65,65.90 L104.61,65.26 L104.58,64.62 L104.54,63.98 L104.50,63.34 L104.46,62.70 L104.43,62.06 L104.39,61.42 L104.35,60.79 L104.31,60.15 L104.27,59.51 L104.23,58.87 L104.19,58.23 L104.15,57.59 L104.11,56.95 L104.07,56.31 L104.03,55.67 L103.99,55.03 L103.95,54.39 L103.91,53.75 L103.87,53.11 L103.84,52.48 L103.80,51.84 L103.76,51.20 L103.73,50.56 L103.70,49.92 L103.66,49.28 L103.63,48.64 L103.59,48.00 L103.56,47.36 L103.52,46.72 L103.49,46.08 L103.45,45.44 L103.42,44.80 L103.38,44.16 L103.35,43.52 L103.31,42.88 L103.28,42.24 L103.24,41.60 L103.20,40.96 L103.17,40.32 L103.13,39.68 L103.10,39.04 L103.06,38.41 L103.03,37.77 L103.00,37.13 L102.96,36.49 L102.93,35.85 L102.89,35.21 L102.86,34.57 L102.83,33.93 L102.79,33.29 L102.76,32.65 L102.73,32.01 L102.70,31.37 L102.67,30.73 L102.64,30.09 L102.61,29.45 L102.58,28.81 L102.55,28.17 L102.53,27.53 L102.50,26.89 L102.47,26.25 L102.45,25.61 L102.42,24.97 L102.40,24.33 L102.38,23.69 L102.36,23.05 L102.34,22.41 L102.32,21.77 L102.30,21.13 L102.28,20.49 L102.26,19.85 L102.25,19.21 L102.23,18.57 L102.22,17.93 L102.21,17.29 L102.19,16.65 L102.18,16.01 L102.17,15.37 L102.16,14.73 L102.15,14.09 L102.14,13.45 L102.13,12.81 L102.12,12.17 L102.11,11.53 L102.10,10.89 L102.09,10.25 L102.08,9.61 L102.07,8.97 L102.06,8.33 L102.05,7.69 L102.05,7.05 L102.04,6.41 L102.03,5.76 L102.03,5.12 L102.02,4.48 L102.01,3.84 L102.01,3.20 L102.01,2.56 L102.00,1.92 L102.00,1.28 L102.00,0.64 L102.00,0.00" stroke="#ff0000" stroke-width="2.7" stroke-dasharray="4.6 4.46" stroke-dashoffset="2.30"/><path d="M106.65,92.72 L106.72,93.35 L106.79,93.99 L106.86,94.64 L106.92,95.28 L106.99,95.92 L107.06,96.57 L107.14,97.21 L107.22,97.85 L107.30,98.48 L107.39,99.12 L107.48,99.75 L107.59,100.37 L107.70,100.99 L107.82,101.60 L107.97,102.22 L108.14,102.84 L108.33,103.46 L108.54,104.08 L108.78,104.70 L109.03,105.31 L109.30,105.91 L109.58,106.51 L109.88,107.09 L110.19,107.66 L110.51,108.21 L110.83,108.73 L111.16,109.24 L111.51,109.73 L111.89,110.20 L112.30,110.67 L112.74,111.12 L113.20,111.56 L113.68,112.00 L114.18,112.42 L114.70,112.84 L115.22,113.24 L115.75,113.64 L116.29,114.03 L116.82,114.42 L117.35,114.80 L117.88,115.17 L118.40,115.54 L118.92,115.92 L119.44,116.29 L119.97,116.67 L120.51,117.04 L121.05,117.41 L121.60,117.77 L122.16,118.10 L122.72,118.42 L123.28,118.72 L123.86,118.99 L124.43,119.23 L125.02,119.44 L125.61,119.63 L126.21,119.81 L126.83,119.98 L127.45,120.14 L128.07,120.29 L128.71,120.43 L129.34,120.56 L129.98,120.69 L130.62,120.80 L131.26,120.91 L131.89,121.00 L132.53,121.09 L133.16,121.17 L133.79,121.25 L134.43,121.32 L135.06,121.39 L135.70,121.46 L136.34,121.53 L136.97,121.59 L137.61,121.65 L138.25,121.71 L138.89,121.76 L139.53,121.82 L140.17,121.86 L140.81,121.91 L141.45,121.95 L142.09,121.99 L142.73,122.03 L143.37,122.06 L144.01,122.09 L144.65,122.11 L145.29,122.14 L145.93,122.16 L146.57,122.19 L147.21,122.21 L147.85,122.23 L148.49,122.25 L149.13,122.28 L149.77,122.30 L150.41,122.32 L151.05,122.34 L151.69,122.36 L152.33,122.37 L152.97,122.39 L153.61,122.41 L154.25,122.43 L154.89,122.44 L155.53,122.46 L156.17,122.48 L156.81,122.49 L157.45,122.51 L158.09,122.52 L158.73,122.53 L159.37,122.55 L160.01,122.56 L160.65,122.57 L161.29,122.58 L161.93,122.59 L162.58,122.61 L163.22,122.62 L163.86,122.63 L164.50,122.64 L165.14,122.65 L165.78,122.66 L166.42,122.66 L167.06,122.67 L167.70,122.68 L168.34,122.69 L168.98,122.69 L169.62,122.70 L170.26,122.71 L170.90,122.71 L171.54,122.72 L172.18,122.73 L172.82,122.73 L173.46,122.74 L174.10,122.75 L174.74,122.75 L175.38,122.76 L176.02,122.77 L176.66,122.77 L177.31,122.78 L177.95,122.78 L178.59,122.79 L179.23,122.80 L179.87,122.80 L180.51,122.81 L181.15,122.81 L181.79,122.82 L182.43,122.82 L183.07,122.83 L183.71,122.83 L184.35,122.84 L184.99,122.84 L185.63,122.85 L186.27,122.85 L186.91,122.85 L187.55,122.86 L188.19,122.86 L188.83,122.87 L189.47,122.87 L190.11,122.87 L190.75,122.88 L191.39,122.88 L192.03,122.88 L192.68,122.88 L193.32,122.89 L193.96,122.89 L194.60,122.89 L195.24,122.89 L195.88,122.90 L196.52,122.90 L197.16,122.90 L197.80,122.90 L198.44,122.90 L199.08,122.90 L199.72,122.90 L200.36,122.90 L201.00,122.90 L201.64,122.90 L202.28,122.90 L202.92,122.90 L203.56,122.90 L204.20,122.90 L204.84,122.90 L205.48,122.90 L206.12,122.90 L206.76,122.90 L207.40,122.90 L208.05,122.90 L208.69,122.90 L209.33,122.90 L209.97,122.90 L210.61,122.90 L211.25,122.90 L211.89,122.90 L212.53,122.90 L213.17,122.90 L213.81,122.90 L214.45,122.90 L215.09,122.90 L215.73,122.90 L216.37,122.90 L217.01,122.90 L217.65,122.90 L218.29,122.90 L218.93,122.90 L219.57,122.90 L220.21,122.90 L220.85,122.90 L221.49,122.90 L222.13,122.90 L222.77,122.90 L223.42,122.90 L224.06,122.90 L224.70,122.90 L225.34,122.90 L225.98,122.90 L226.62,122.90 L227.26,122.90 L227.90,122.90 L228.54,122.90 L229.18,122.90 L229.82,122.90 L230.46,122.90 L231.10,122.90 L231.74,122.90 L232.38,122.90 L233.02,122.90 L233.66,122.90 L234.30,122.90 L234.94,122.90 L235.58,122.90 L236.22,122.90 L236.86,122.90 L237.50,122.90 L238.14,122.90 L238.79,122.90 L239.43,122.90 L240.07,122.90 L240.71,122.90 L241.35,122.90 L241.99,122.90 L242.63,122.90 L243.27,122.90 L243.91,122.90 L244.55,122.90 L245.19,122.90 L245.83,122.90 L246.47,122.90 L247.11,122.90 L247.75,122.90 L248.39,122.90 L249.03,122.90 L249.67,122.90 L250.31,122.90 L250.95,122.90 L251.59,122.90 L252.23,122.90 L252.87,122.90 L253.52,122.90 L254.16,122.90 L254.80,122.90 L255.44,122.90 L256.08,122.90 L256.72,122.90 L257.36,122.90 L258.00,122.90 L258.64,122.90 L259.28,122.90 L259.92,122.90 L260.56,122.90 L261.20,122.90 L261.84,122.90 L262.48,122.90 L263.12,122.90 L263.76,122.90 L264.40,122.90 L265.04,122.90 L265.68,122.90 L266.32,122.90 L266.96,122.90 L267.60,122.90 L268.24,122.90 L268.89,122.90 L269.53,122.90 L270.17,122.90 L270.81,122.90 L271.45,122.90 L272.09,122.90 L272.73,122.91 L273.37,122.91 L274.01,122.91 L274.65,122.91 L275.29,122.91 L275.93,122.91 L276.57,122.91 L277.21,122.91 L277.85,122.91 L278.49,122.91 L279.13,122.91 L279.77,122.91 L280.41,122.91 L281.05,122.91 L281.69,122.91 L282.33,122.92 L282.97,122.92 L283.61,122.92 L284.26,122.92 L284.90,122.92 L285.54,122.92 L286.18,122.92 L286.82,122.92 L287.46,122.92 L288.10,122.92 L288.74,122.92 L289.38,122.93 L290.02,122.93 L290.66,122.93 L291.30,122.93 L291.94,122.93 L292.58,122.93 L293.22,122.93 L293.86,122.93 L294.50,122.93 L295.14,122.93 L295.78,122.93 L296.42,122.94 L297.06,122.94 L297.70,122.94 L298.34,122.94 L298.98,122.94 L299.63,122.94 L300.27,122.94 L300.91,122.94 L301.55,122.94 L302.19,122.95 L302.83,122.95 L303.47,122.95 L304.11,122.95 L304.75,122.95 L305.39,122.95 L306.03,122.95 L306.67,122.95 L307.31,122.95 L307.95,122.95 L308.59,122.96 L309.23,122.96 L309.87,122.96 L310.51,122.96 L311.15,122.96 L311.79,122.96 L312.43,122.96 L313.07,122.96 L313.71,122.96 L314.35,122.97 L315.00,122.97 L315.64,122.97 L316.28,122.97 L316.92,122.97 L317.56,122.97 L318.20,122.97 L318.84,122.97 L319.48,122.97 L320.12,122.97 L320.76,122.98 L321.40,122.98 L322.04,122.98 L322.68,122.98 L323.32,122.98 L323.96,122.98 L324.60,122.98 L325.24,122.98 L325.88,122.98 L326.52,122.98 L327.16,122.98 L327.80,122.98 L328.44,122.99 L329.08,122.99 L329.72,122.99 L330.37,122.99 L331.01,122.99 L331.65,122.99 L332.29,122.99 L332.93,122.99 L333.57,122.99 L334.21,122.99 L334.85,122.99 L335.49,122.99 L336.13,122.99 L336.77,122.99 L337.41,122.99 L338.05,123.00 L338.69,123.00 L339.33,123.00 L339.97,123.00 L340.61,123.00 L341.25,123.00 L341.89,123.00 L342.53,123.00 L343.17,123.00 L343.81,123.00 L344.45,123.00 L345.09,123.00 L345.74,123.00 L346.38,123.00 L347.02,123.00 L347.66,123.00 L348.30,123.00 L348.94,123.00 L349.58,123.00 L350.22,123.00 L350.86,123.00 L351.50,123.00 L352.14,123.00 L352.78,123.00 L353.42,123.00 L354.06,123.00 L354.70,123.00 L355.34,123.00 L355.98,123.00 L356.62,123.00 L357.26,123.00 L357.90,123.00 L358.54,123.00 L359.18,123.00 L359.82,123.00 L360.46,123.00 L361.11,123.00 L361.75,123.00 L362.39,123.00 L363.03,123.00 L363.67,123.00 L364.31,123.00 L364.95,123.00 L365.59,123.00 L366.23,123.00 L366.87,123.00 L367.51,123.00 L368.15,123.00 L368.79,123.00 L369.43,123.00 L370.07,123.00 L370.71,123.00 L371.35,123.00 L371.99,123.00 L372.63,123.00 L373.27,123.00 L373.91,123.00 L374.55,123.00 L375.19,123.00 L375.83,123.00 L376.48,123.00 L377.12,123.00 L377.76,123.00 L378.40,123.00 L379.04,123.00 L379.68,123.00 L380.32,123.00 L380.96,123.00 L381.60,123.00 L382.24,123.00 L382.88,123.00 L383.52,123.00 L384.16,123.00 L384.80,123.00 L385.44,123.00 L386.08,123.00 L386.72,123.00 L387.36,123.00 L388.00,123.00 L388.64,123.00 L389.28,123.00 L389.92,123.00 L390.56,123.00 L391.20,123.00 L391.85,123.00 L392.49,123.00 L393.13,123.00 L393.77,123.00 L394.41,123.00 L395.05,123.00 L395.69,123.00 L396.33,123.00 L396.97,123.00 L397.61,123.00 L398.25,123.00 L398.89,123.00 L399.53,123.00 L400.17,123.00 L400.81,123.00 L401.45,123.00 L402.09,123.00 L402.73,123.00 L403.37,123.00 L404.01,123.00 L404.65,123.00 L405.29,123.00 L405.93,123.00 L406.57,123.00 L407.22,123.00 L407.86,123.00 L408.50,123.00 L409.14,123.00 L409.78,123.00 L410.42,123.00 L411.06,123.00 L411.70,123.00 L412.34,123.00 L412.98,123.00 L413.62,123.00 L414.26,123.00 L414.90,123.00 L415.54,123.00 L416.18,123.00 L416.82,123.00 L417.46,123.00 L418.10,123.00 L418.74,123.00 L419.38,123.00 L420.02,123.00 L420.66,123.00 L421.30,123.00 L421.94,123.00 L422.59,123.00 L423.23,123.00 L423.87,123.00 L424.51,123.00 L425.15,123.00 L425.79,123.00 L426.43,123.00 L427.07,123.00 L427.71,123.00 L428.35,123.00 L428.99,123.00 L429.63,123.00 L430.27,123.00 L430.91,123.00 L431.55,123.00 L432.19,123.00 L432.83,123.00 L433.47,123.00 L434.11,123.00 L434.75,123.00 L435.39,123.00 L436.03,123.00 L436.67,123.00 L437.31,123.00 L437.96,123.00 L438.60,123.00 L439.24,123.00 L439.88,123.00 L440.52,123.00 L441.16,123.00 L441.80,123.00 L442.44,123.00 L443.08,123.00 L443.72,123.00 L444.36,123.00 L445.00,123.00" stroke="#ff0000" stroke-width="2.7" stroke-dasharray="4.6 4.52" stroke-dashoffset="2.30"/>
</g>
<text x="92.9" y="44.36" font-size="16" text-anchor="end">0.4</text>
<text x="92.9" y="86.67" font-size="16" text-anchor="end">0.2</text>
<text x="92.9" y="128.98" font-size="16" text-anchor="end">0.0</text>
<text x="92.9" y="171.29" font-size="16" text-anchor="end">−0.2</text>
<text x="92.9" y="213.60" font-size="16" text-anchor="end">−0.4</text>
<text x="154.00" y="247.0" font-size="16" text-anchor="middle">1.10</text>
<text x="225.27" y="247.0" font-size="16" text-anchor="middle">1.15</text>
<text x="296.55" y="247.0" font-size="16" text-anchor="middle">1.20</text>
<text x="367.82" y="247.0" font-size="16" text-anchor="middle">1.25</text>
<text x="439.10" y="247.0" font-size="16" text-anchor="middle">1.30</text>
<text x="246.6" y="271.2" font-size="16"><tspan font-style="italic">θ</tspan>, deg</text>
<text transform="translate(50.0,148.4) rotate(-90)" font-size="16">J, meV</text>
<text x="175.6" y="38.2" font-size="16">(a) n=0, R=1 nm</text>
<rect x="304.5" y="20.3" width="132.1" height="99.35" rx="4.4" ry="4.4" fill="#fff" stroke="#999999" stroke-width="0.75"/>
<path d="M307.7,32.7 H353.5" stroke="#0000ff" stroke-width="2" fill="none"/>
<text x="360.9" y="36.84" font-size="12.4">T=0, QUAD</text>
<path d="M309.0,57.87 H354" stroke="#0000ff" stroke-width="2.7" stroke-dasharray="4.75 4.33" fill="none"/>
<text x="360.9" y="62.03" font-size="12.4">T=40, QUAD</text>
<path d="M307.7,83.07 H353.5" stroke="#ff0000" stroke-width="2" fill="none"/>
<text x="360.9" y="87.22" font-size="12.4">T=0, BIQ</text>
<path d="M309.0,108.3 H354" stroke="#ff0000" stroke-width="2.7" stroke-dasharray="4.75 4.33" fill="none"/>
<text x="360.9" y="112.41" font-size="12.4">T=40, BIQ</text>
<path d="M111.04,228.75 v-2.45 M111.04,17.2 v2.45 M125.29,228.75 v-2.45 M125.29,17.2 v2.45 M139.55,228.75 v-2.45 M139.55,17.2 v2.45 M153.80,228.75 v-4.0 M153.80,17.2 v4.0 M168.06,228.75 v-2.45 M168.06,17.2 v2.45 M182.31,228.75 v-2.45 M182.31,17.2 v2.45 M196.56,228.75 v-2.45 M196.56,17.2 v2.45 M210.82,228.75 v-2.45 M210.82,17.2 v2.45 M225.07,228.75 v-4.0 M225.07,17.2 v4.0 M239.33,228.75 v-2.45 M239.33,17.2 v2.45 M253.58,228.75 v-2.45 M253.58,17.2 v2.45 M267.84,228.75 v-2.45 M267.84,17.2 v2.45 M282.09,228.75 v-2.45 M282.09,17.2 v2.45 M296.35,228.75 v-4.0 M296.35,17.2 v4.0 M310.60,228.75 v-2.45 M310.60,17.2 v2.45 M324.86,228.75 v-2.45 M324.86,17.2 v2.45 M339.11,228.75 v-2.45 M339.11,17.2 v2.45 M353.37,228.75 v-2.45 M353.37,17.2 v2.45 M367.62,228.75 v-4.0 M367.62,17.2 v4.0 M381.88,228.75 v-2.45 M381.88,17.2 v2.45 M396.13,228.75 v-2.45 M396.13,17.2 v2.45 M410.39,228.75 v-2.45 M410.39,17.2 v2.45 M424.64,228.75 v-2.45 M424.64,17.2 v2.45 M438.90,228.75 v-4.0 M438.90,17.2 v4.0 M96.95,218.18 h2.1 M439.05,218.18 h-2.1 M96.95,207.60 h4.0 M439.05,207.60 h-4.0 M96.95,197.02 h2.1 M439.05,197.02 h-2.1 M96.95,186.45 h2.1 M439.05,186.45 h-2.1 M96.95,175.87 h2.1 M439.05,175.87 h-2.1 M96.95,165.29 h4.0 M439.05,165.29 h-4.0 M96.95,154.71 h2.1 M439.05,154.71 h-2.1 M96.95,144.13 h2.1 M439.05,144.13 h-2.1 M96.95,133.56 h2.1 M439.05,133.56 h-2.1 M96.95,122.98 h4.0 M439.05,122.98 h-4.0 M96.95,112.40 h2.1 M439.05,112.40 h-2.1 M96.95,101.83 h2.1 M439.05,101.83 h-2.1 M96.95,91.25 h2.1 M439.05,91.25 h-2.1 M96.95,80.67 h4.0 M439.05,80.67 h-4.0 M96.95,70.09 h2.1 M439.05,70.09 h-2.1 M96.95,59.51 h2.1 M439.05,59.51 h-2.1 M96.95,48.94 h2.1 M439.05,48.94 h-2.1 M96.95,38.36 h4.0 M439.05,38.36 h-4.0 M96.95,27.78 h2.1 M439.05,27.78 h-2.1" stroke="#666666" stroke-width="1.3" fill="none"/>
<rect x="96.95" y="17.2" width="342.10" height="211.55" fill="none" stroke="#666666" stroke-width="1.85"/>
</svg></body></html>
